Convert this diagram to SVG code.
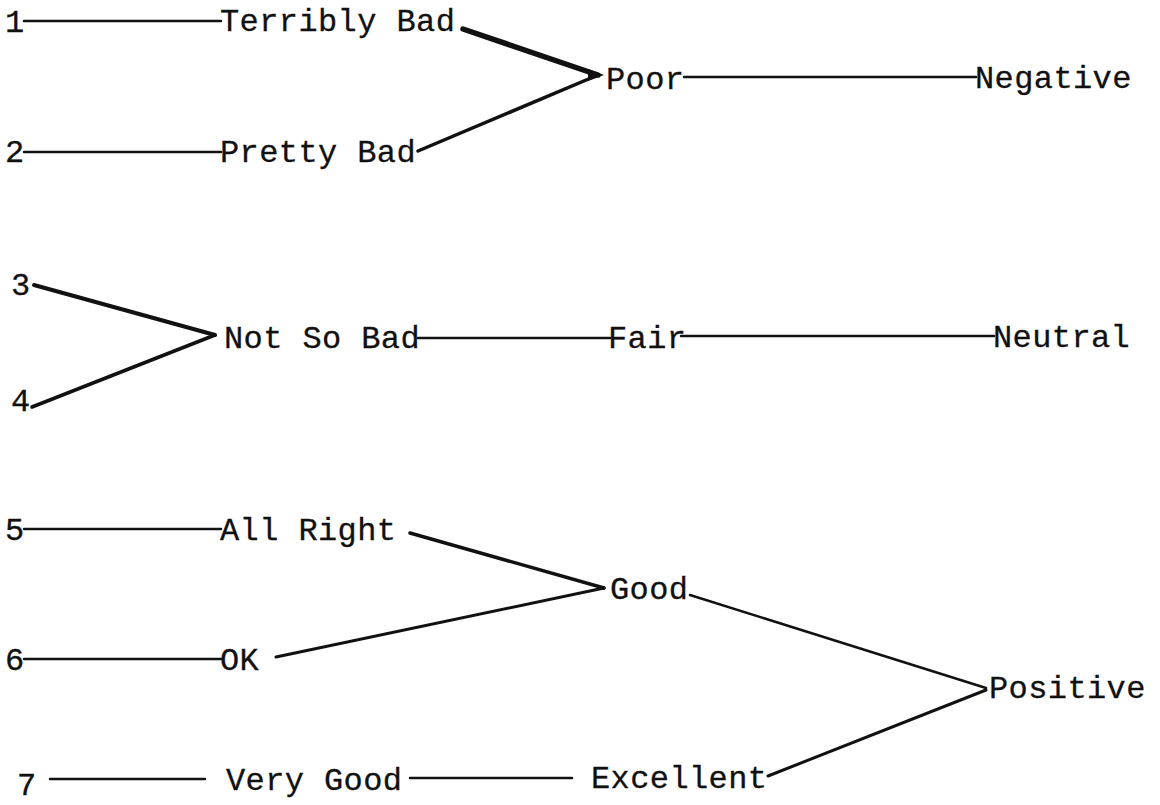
<svg xmlns="http://www.w3.org/2000/svg" width="1160" height="805" viewBox="0 0 1160 805">
<style>
.t{font-family:"Liberation Mono","Courier New",monospace;font-size:32px;letter-spacing:0.4px;fill:#111;stroke:#111;stroke-width:0.3px}
.c{stroke:#111;fill:none;stroke-linecap:round}
.h{stroke-width:2.5px}
</style>
<rect width="1160" height="805" fill="#fff"/>
<g id="connectors">
<line class="c h" x1="24" y1="21" x2="221" y2="21"/>
<line class="c h" x1="24" y1="152" x2="221" y2="152"/>
<line class="c" stroke-width="5.5" x1="463" y1="29" x2="598" y2="75"/>
<line class="c" stroke-width="3.5" x1="598" y1="75" x2="418" y2="151"/>
<polygon points="588,69 604,75 588,81" fill="#111"/>
<line class="c h" x1="684" y1="77" x2="976" y2="77"/>
<line class="c" stroke-width="4" x1="34" y1="285" x2="215" y2="335"/>
<line class="c" stroke-width="3.5" x1="32" y1="407" x2="215" y2="335"/>
<line class="c h" x1="418" y1="338" x2="610" y2="338"/>
<line class="c h" x1="681" y1="336" x2="994" y2="336"/>
<line class="c h" x1="24" y1="529" x2="221" y2="529"/>
<line class="c h" x1="24" y1="659" x2="221" y2="659"/>
<line class="c" stroke-width="3.5" x1="410" y1="533" x2="604" y2="588"/>
<line class="c" stroke-width="3" x1="276" y1="657" x2="604" y2="588"/>
<line class="c h" x1="690" y1="595" x2="986" y2="688"/>
<line class="c" stroke-width="3" x1="768" y1="776" x2="986" y2="690"/>
<line class="c h" x1="50" y1="779" x2="205" y2="779"/>
<line class="c h" x1="410" y1="778" x2="572" y2="778"/>
</g>
<g id="n1"><text class="t" x="5" y="32">1</text></g>
<g id="n2"><text class="t" x="5" y="162">2</text></g>
<g id="n3"><text class="t" x="11" y="295">3</text></g>
<g id="n4"><text class="t" x="11" y="411">4</text></g>
<g id="n5"><text class="t" x="5" y="540">5</text></g>
<g id="n6"><text class="t" x="5" y="670">6</text></g>
<g id="n7"><text class="t" x="17" y="795">7</text></g>
<g id="terribly-bad"><text class="t" x="220" y="31">Terribly Bad</text></g>
<g id="pretty-bad"><text class="t" x="220" y="162">Pretty Bad</text></g>
<g id="poor"><text class="t" x="606" y="89">Poor</text></g>
<g id="negative"><text class="t" x="975" y="88">Negative</text></g>
<g id="not-so-bad"><text class="t" x="224" y="348">Not So Bad</text></g>
<g id="fair"><text class="t" x="608" y="348">Fair</text></g>
<g id="neutral"><text class="t" x="993" y="347">Neutral</text></g>
<g id="all-right"><text class="t" x="220" y="540">All Right</text></g>
<g id="ok"><text class="t" x="220" y="670">OK</text></g>
<g id="good"><text class="t" x="610" y="599">Good</text></g>
<g id="positive"><text class="t" x="989" y="698">Positive</text></g>
<g id="very-good"><text class="t" x="226" y="790">Very Good</text></g>
<g id="excellent"><text class="t" x="591" y="788">Excellent</text></g>
</svg>
